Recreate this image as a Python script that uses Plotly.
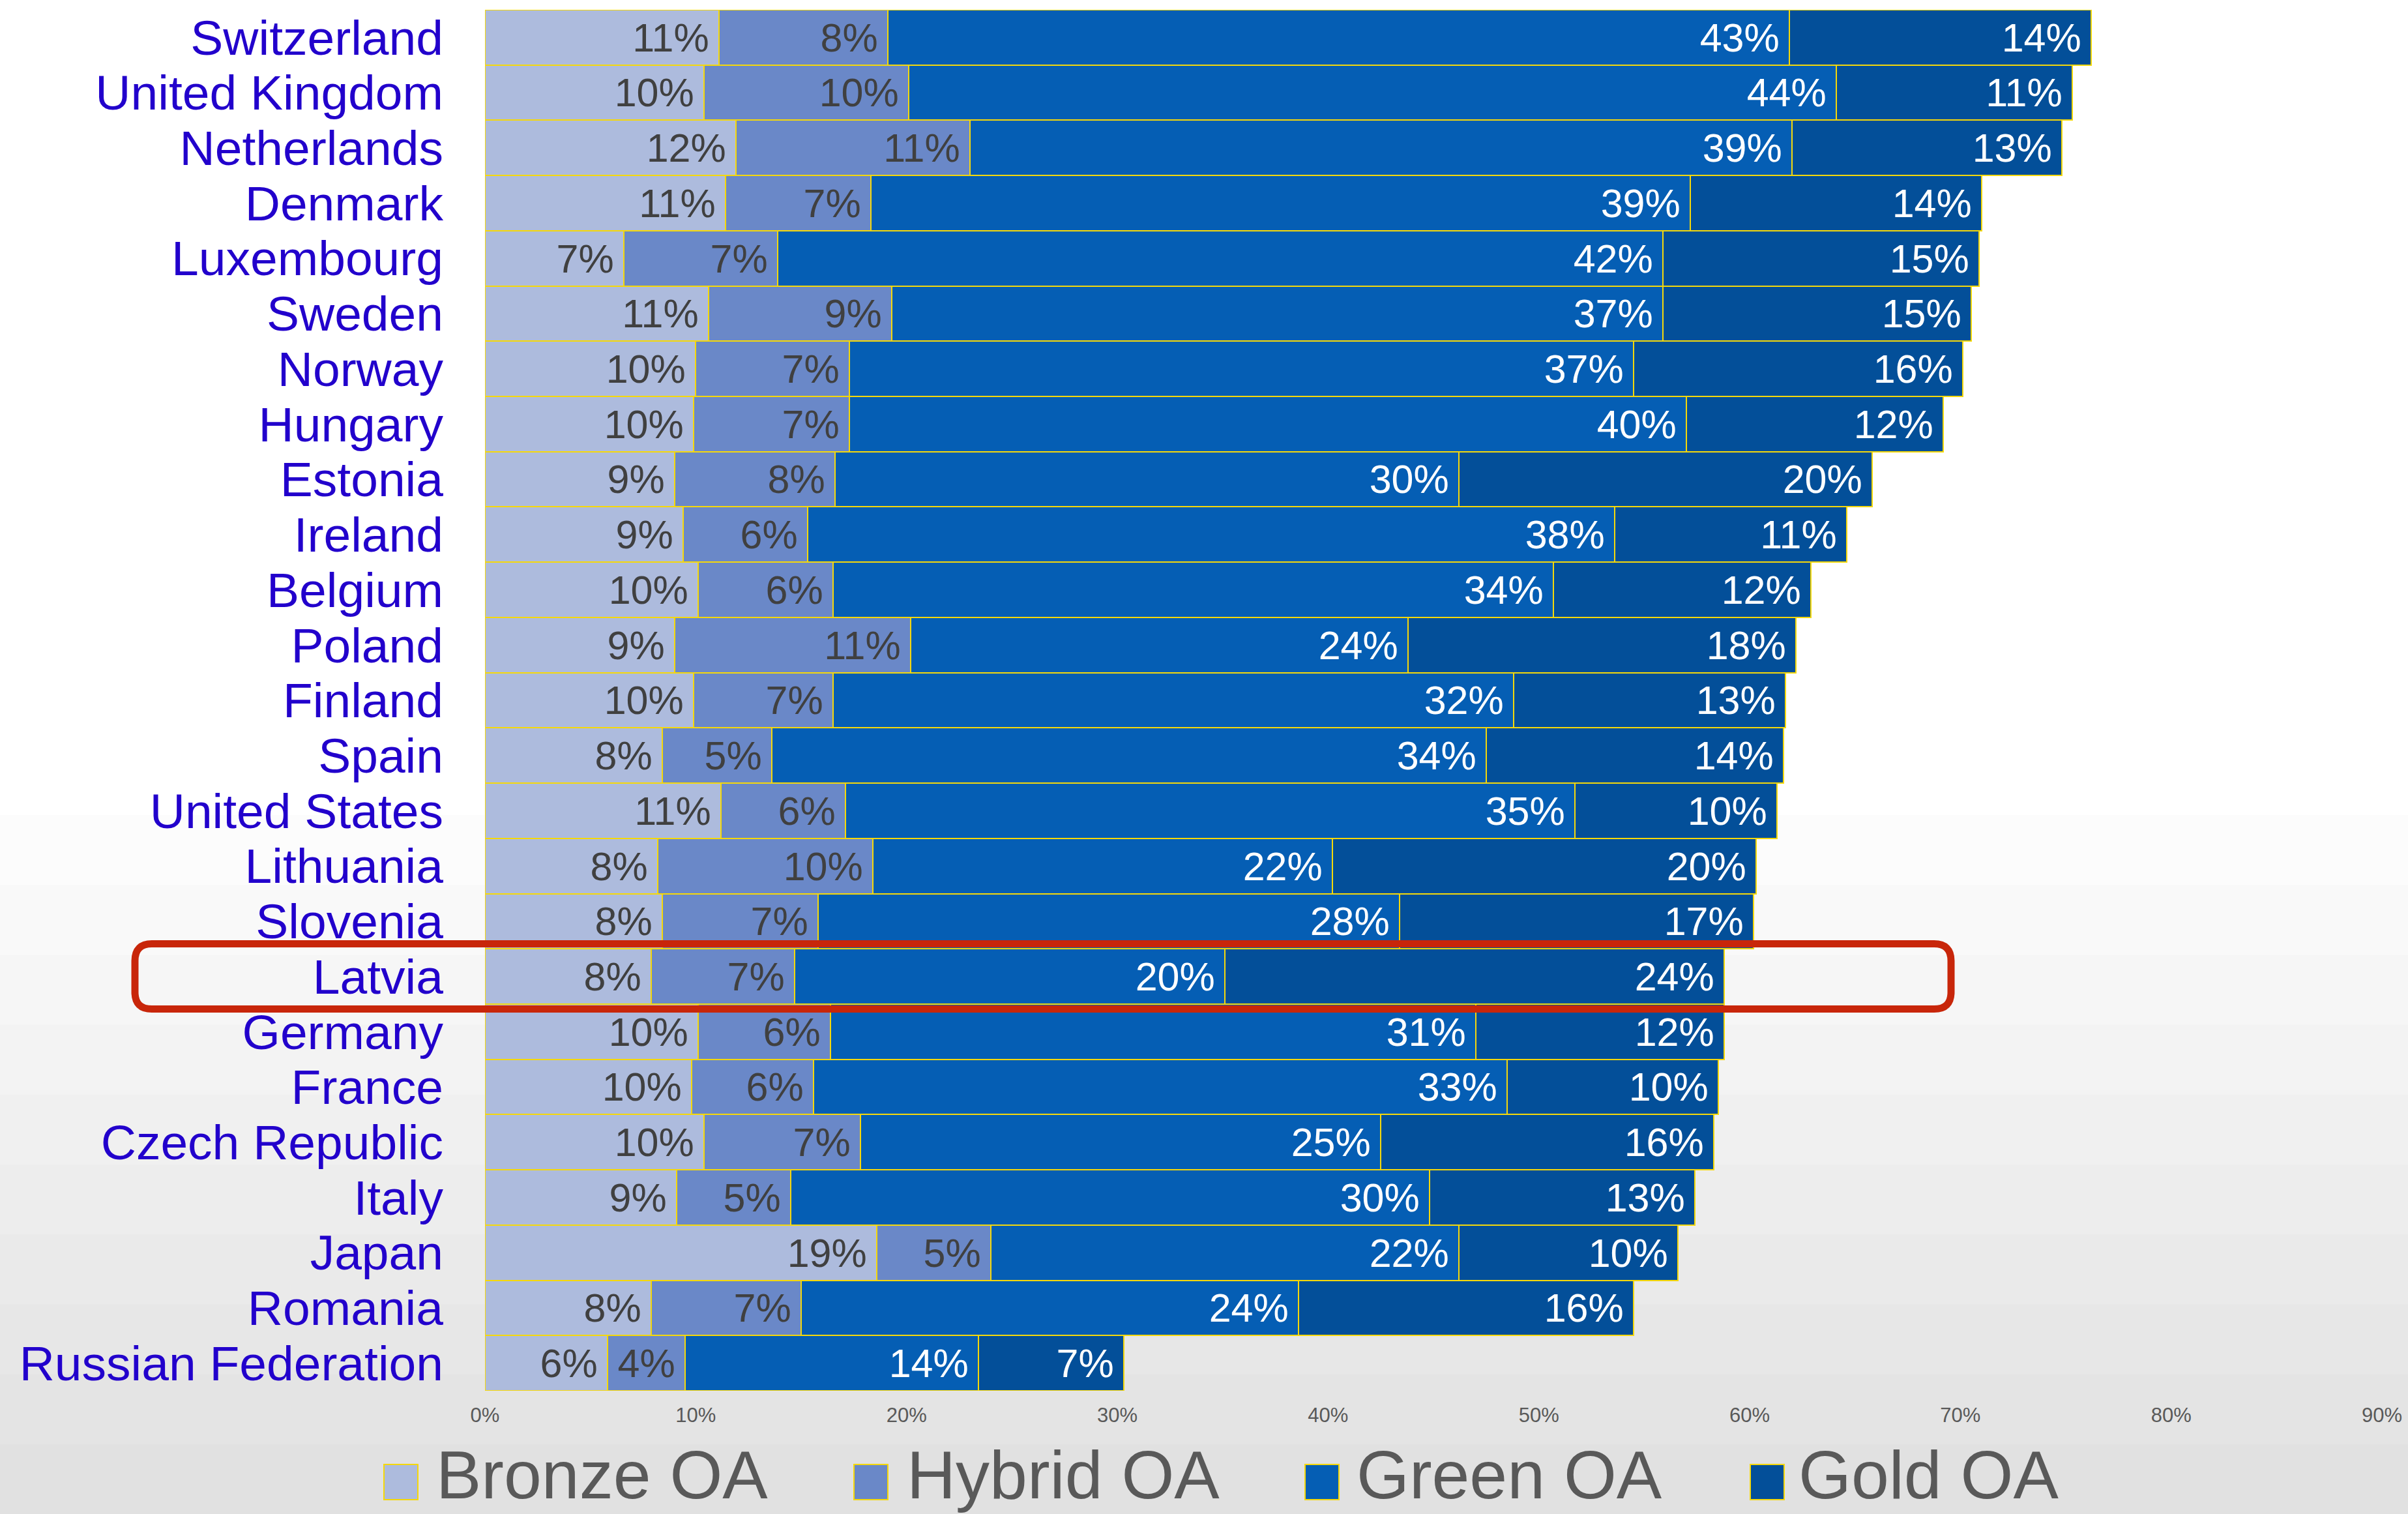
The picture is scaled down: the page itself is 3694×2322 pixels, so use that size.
import plotly.graph_objects as go

countries = ["Switzerland", "United Kingdom", "Netherlands", "Denmark", "Luxembourg",
             "Sweden", "Norway", "Hungary", "Estonia", "Ireland", "Belgium", "Poland",
             "Finland", "Spain", "United States", "Lithuania", "Slovenia", "Latvia",
             "Germany", "France", "Czech Republic", "Italy", "Japan", "Romania",
             "Russian Federation"]
bronze = [11.1, 10.4, 11.9, 11.4, 6.6, 10.6, 10.0, 9.9, 9.0, 9.4, 10.1, 9.0, 9.9,
          8.4, 11.2, 8.2, 8.4, 7.9, 10.1, 9.8, 10.4, 9.1, 18.6, 7.9, 5.8]
hybrid = [8.0, 9.7, 11.1, 6.9, 7.3, 8.7, 7.3, 7.4, 7.6, 5.9, 6.4, 11.2, 6.6,
          5.2, 5.9, 10.2, 7.4, 6.8, 6.3, 5.8, 7.4, 5.4, 5.4, 7.1, 3.7]
green = [42.8, 44.0, 39.0, 38.9, 42.0, 36.6, 37.2, 39.7, 29.6, 38.3, 34.2, 23.6, 32.3,
         33.9, 34.6, 21.8, 27.6, 20.4, 30.6, 32.9, 24.7, 30.3, 22.2, 23.6, 13.9]
gold = [14.3, 11.2, 12.8, 13.8, 15.0, 14.6, 15.6, 12.2, 19.6, 11.0, 12.2, 18.4, 12.9,
        14.1, 9.6, 20.1, 16.8, 23.7, 11.8, 10.0, 15.8, 12.6, 10.4, 15.9, 6.9]
series_names = ["Bronze OA", "Hybrid OA", "Green OA", "Gold OA"]
series_colors = ["#ADBBDD", "#6A88C8", "#055EB4", "#034F99"]
label_colors = ["#404040", "#404040", "#FFFFFF", "#FFFFFF"]
x_ticks = [0, 10, 20, 30, 40, 50, 60, 70, 80, 90]
x_tick_labels = ["0%", "10%", "20%", "30%", "40%", "50%", "60%", "70%", "80%", "90%"]
highlight = "Latvia"

W, H = 3694, 2322
L, R, T, B = 744, 40, 15, 189
PW, PH = W - L - R, H - T - B
FONT = "Liberation Sans, Arial, sans-serif"
YELLOW = "#F5D80A"


def px2x(px):
    return (px - L) / PW


def py2y(py):
    return (H - B - py) / PH


fig = go.Figure()
for name, vals, col, tcol in zip(series_names, [bronze, hybrid, green, gold],
                                 series_colors, label_colors):
    fig.add_trace(go.Bar(
        y=countries, x=vals, name=name, orientation="h",
        marker=dict(color=col, line=dict(color=YELLOW, width=2)),
        texttemplate="%{x:.0f}%\u2009", textposition="inside",
        insidetextanchor="end", textangle=0, constraintext="none",
        textfont=dict(family=FONT, size=61, color=tcol),
        showlegend=False,
    ))

shapes = []
# soft grey background towards the bottom
steps = 10
for i in range(steps):
    y0 = 1250 + i * (H - 1250) / steps
    shapes.append(dict(type="rect", xref="paper", yref="paper", layer="below",
                       x0=px2x(0), x1=px2x(W), y0=py2y(y0), y1=py2y(H),
                       fillcolor="rgba(0,0,0,0.011)", line=dict(width=0)))

# rounded highlight box around the Latvia row
idx = countries.index(highlight)
row_h = PH / len(countries)
cy = T + (idx + 0.5) * row_h
bx0, bx1 = 207, 2993
by0, by1 = cy - 50, cy + 50
r = 26
pts = [
    f"M {px2x(bx0 + r)},{py2y(by0)}",
    f"L {px2x(bx1 - r)},{py2y(by0)}",
    f"Q {px2x(bx1)},{py2y(by0)} {px2x(bx1)},{py2y(by0 + r)}",
    f"L {px2x(bx1)},{py2y(by1 - r)}",
    f"Q {px2x(bx1)},{py2y(by1)} {px2x(bx1 - r)},{py2y(by1)}",
    f"L {px2x(bx0 + r)},{py2y(by1)}",
    f"Q {px2x(bx0)},{py2y(by1)} {px2x(bx0)},{py2y(by1 - r)}",
    f"L {px2x(bx0)},{py2y(by0 + r)}",
    f"Q {px2x(bx0)},{py2y(by0)} {px2x(bx0 + r)},{py2y(by0)}",
    "Z",
]
shapes.append(dict(type="path", xref="paper", yref="paper", layer="above",
                   path=" ".join(pts), line=dict(color="#C8260A", width=11)))

# manual legend
annotations = []
sw_x = [589, 1310, 2002, 2685]
tx_x = [668, 1390, 2080, 2758]
for name, col, sx, tx in zip(series_names, series_colors, sw_x, tx_x):
    shapes.append(dict(type="rect", xref="paper", yref="paper",
                       x0=px2x(sx), x1=px2x(sx + 52), y0=py2y(2300), y1=py2y(2246),
                       fillcolor=col, line=dict(color=YELLOW, width=2)))
    annotations.append(dict(xref="paper", yref="paper", x=px2x(tx), y=py2y(H - 1),
                            xanchor="left", yanchor="bottom", showarrow=False,
                            borderpad=0, text=name,
                            font=dict(family=FONT, size=104, color="#595959")))

fig.update_layout(
    width=W, height=H, barmode="stack", bargap=0,
    margin=dict(l=L, r=R, t=T, b=B, pad=0),
    paper_bgcolor="#FFFFFF", plot_bgcolor="rgba(0,0,0,0)",
    shapes=shapes, annotations=annotations, showlegend=False,
    xaxis=dict(range=[0, 90], tickmode="array", tickvals=x_ticks, ticktext=x_tick_labels,
               showgrid=False, zeroline=False, showline=False, ticks="", automargin=False,
               ticklabelstandoff=16,
               tickfont=dict(family=FONT, size=31, color="#595959")),
    yaxis=dict(autorange="reversed", tickmode="array", tickvals=countries,
               ticktext=countries, showgrid=False, zeroline=False, showline=False,
               ticks="", automargin=False, ticklabelstandoff=63,
               tickfont=dict(family=FONT, size=75, color="#2200CC")),
)

fig.write_html("out.html", config={"displayModeBar": False},
               post_script="document.body.style.margin='0px';")
